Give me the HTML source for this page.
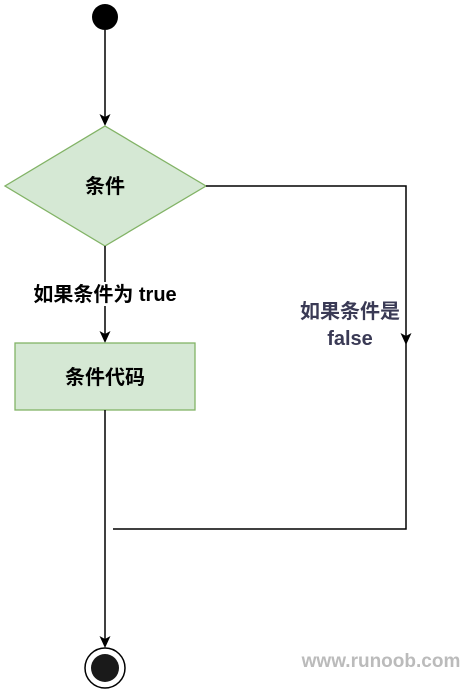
<!DOCTYPE html>
<html><head><meta charset="utf-8"><style>
html,body{margin:0;padding:0;background:#fff;}
svg{display:block;}
text{font-family:"Liberation Sans","Noto Sans CJK SC",sans-serif;font-weight:bold;}
</style></head><body>
<svg width="471" height="699" viewBox="0 0 471 699" xmlns="http://www.w3.org/2000/svg">
<circle cx="105" cy="17" r="13" fill="#000"/>
<line x1="105" y1="30" x2="105" y2="118" stroke="#000" stroke-width="1.5"/>
<path d="M99.5 114 L105 126 L110.5 114 L105 117 Z" fill="#000"/>
<polygon points="105,126 206,186 105,246 5,186" fill="#d5e8d4" stroke="#82b366" stroke-width="1.3"/>
<text x="105" y="193" font-size="20" text-anchor="middle">条件</text>
<line x1="105" y1="246" x2="105" y2="335" stroke="#000" stroke-width="1.5"/>
<path d="M99.5 331 L105 343 L110.5 331 L105 334 Z" fill="#000"/>
<rect x="15" y="343" width="180" height="67" fill="#d5e8d4" stroke="#82b366" stroke-width="1.3"/>
<text x="105" y="384" font-size="20" text-anchor="middle">条件代码</text>
<rect x="25" y="282" width="160" height="24" fill="#fff"/>
<text x="105" y="301" font-size="20" text-anchor="middle">如果条件为 true</text>
<polyline points="206,186 406,186 406,529 113,529" fill="none" stroke="#000" stroke-width="1.5"/>
<path d="M400.5 333 L406 345 L411.5 333 L406 336 Z" fill="#000"/>
<text x="350" y="318" font-size="20" text-anchor="middle" fill="#3a3a55">如果条件是</text>
<text x="350" y="345" font-size="20" text-anchor="middle" fill="#3a3a55">false</text>
<line x1="105" y1="410" x2="105" y2="640" stroke="#000" stroke-width="1.5"/>
<path d="M99.5 636 L105 648 L110.5 636 L105 639 Z" fill="#000"/>
<circle cx="105" cy="668" r="20" fill="#fff" stroke="#000" stroke-width="1.5"/>
<circle cx="105" cy="668" r="14" fill="#1a1a1a"/>
<text x="381" y="667" font-size="19" text-anchor="middle" fill="#bbb" font-weight="normal">www.runoob.com</text>
</svg>
</body></html>
